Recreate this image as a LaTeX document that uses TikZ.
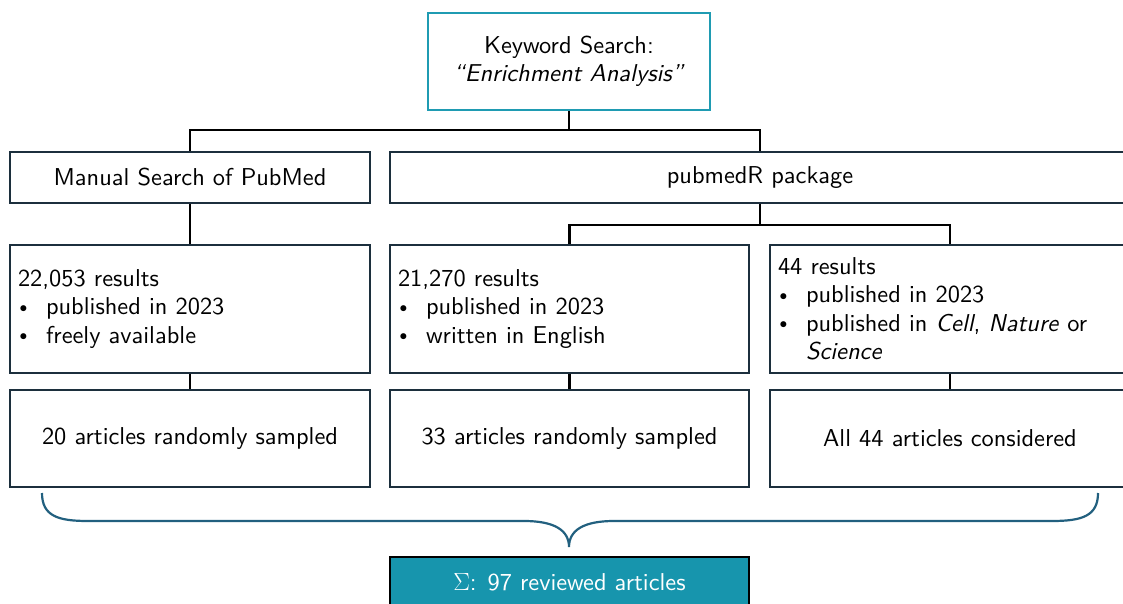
\documentclass[tikz,border=0pt]{standalone}
\usepackage{fontspec}
\setsansfont{lmsans10-regular.otf}[ItalicFont=lmsans10-oblique.otf,BoldFont=lmsans10-bold.otf]
\definecolor{boxline}{HTML}{1C2F3D}
\definecolor{teal}{HTML}{1F9BB2}
\definecolor{sumfill}{HTML}{1795AD}
\definecolor{bracecol}{HTML}{22607F}
\newcommand\bul[1]{\par\noindent\makebox[28pt][l]{\hspace{1.5pt}\raisebox{2.6pt}{\scalebox{0.62}{$\bullet$}}}\parbox[t]{310pt}{\raggedright #1}}
\begin{document}
\begin{tikzpicture}[x=1pt,y=-1pt,
  every node/.style={font=\sffamily\fontsize{24.4}{28.5}\selectfont},
  box/.style={draw=boxline,line width=2.3pt,rectangle,inner sep=0pt,align=center,minimum height=#1},
  listbox/.style={draw=boxline,line width=2.3pt,rectangle,inner xsep=8pt,inner ysep=0pt,minimum height=128pt,text width=344pt,align=left},
  conn/.style={line width=2.2pt,black}]
\useasboundingbox (0,0) rectangle (1123,604);
\clip (0,0) rectangle (1123,604);
\node[box=97pt,draw=teal,minimum width=282pt] (top) at (569,61.5) {Keyword Search:\\\textit{``Enrichment Analysis''}};
\node[box=51pt,minimum width=360pt] (manual) at (190,177.5) {Manual Search of PubMed};
\node[box=51pt,minimum width=740pt] (pkg) at (760,177.5) {pubmedR package};
\node[listbox] (r1) at (190,309) {22,053 results\bul{published in 2023}\bul{freely available}};
\node[listbox,text width=343pt] (r2) at (569.5,309) {21,270 results\bul{published in 2023}\bul{written in English}};
\node[listbox] (r3) at (950,309) {44 results\bul{published in 2023}\bul{published in \textit{Cell}, \textit{Nature} or\\\textit{Science}}};
\node[box=97pt,minimum width=360pt] (a1) at (190,438.5) {20 articles randomly sampled};
\node[box=97pt,minimum width=359pt] (a2) at (569.5,438.5) {33 articles randomly sampled};
\node[box=97pt,minimum width=360pt] (a3) at (950,438.5) {All 44 articles considered};
\node[box=50pt,minimum width=359pt,fill=sumfill,draw=black,text=white] (sum) at (569.5,582) {$\Sigma$: 97 reviewed articles};
\coordinate (j1) at (569,130);
\coordinate (j2) at (760,225);
\draw[conn] (top.south) -- (j1);
\draw[conn] (manual.north) |- (j1) -| (pkg.north);
\draw[conn] (pkg.south) -- (j2);
\draw[conn] (r2.north) |- (j2) -| (r3.north);
\draw[conn] (manual.south) -- (r1.north);
\draw[conn] (r1.south) -- (a1.north);
\draw[conn] (r2.south) -- (a2.north);
\draw[conn] (r3.south) -- (a3.north);
\coordinate (bl) at (42,493);
\coordinate (br) at (1098,493);
\coordinate (bt) at (569,547);
\draw[bracecol,line width=2.2pt] (bl) .. controls (42,516) and (58,521) .. (88,521) -- (524,521) .. controls (554,521) and (569,530) .. (bt) .. controls (569,530) and (584,521) .. (614,521) -- (1052,521) .. controls (1082,521) and (1098,516) .. (br);
\end{tikzpicture}
\end{document}
